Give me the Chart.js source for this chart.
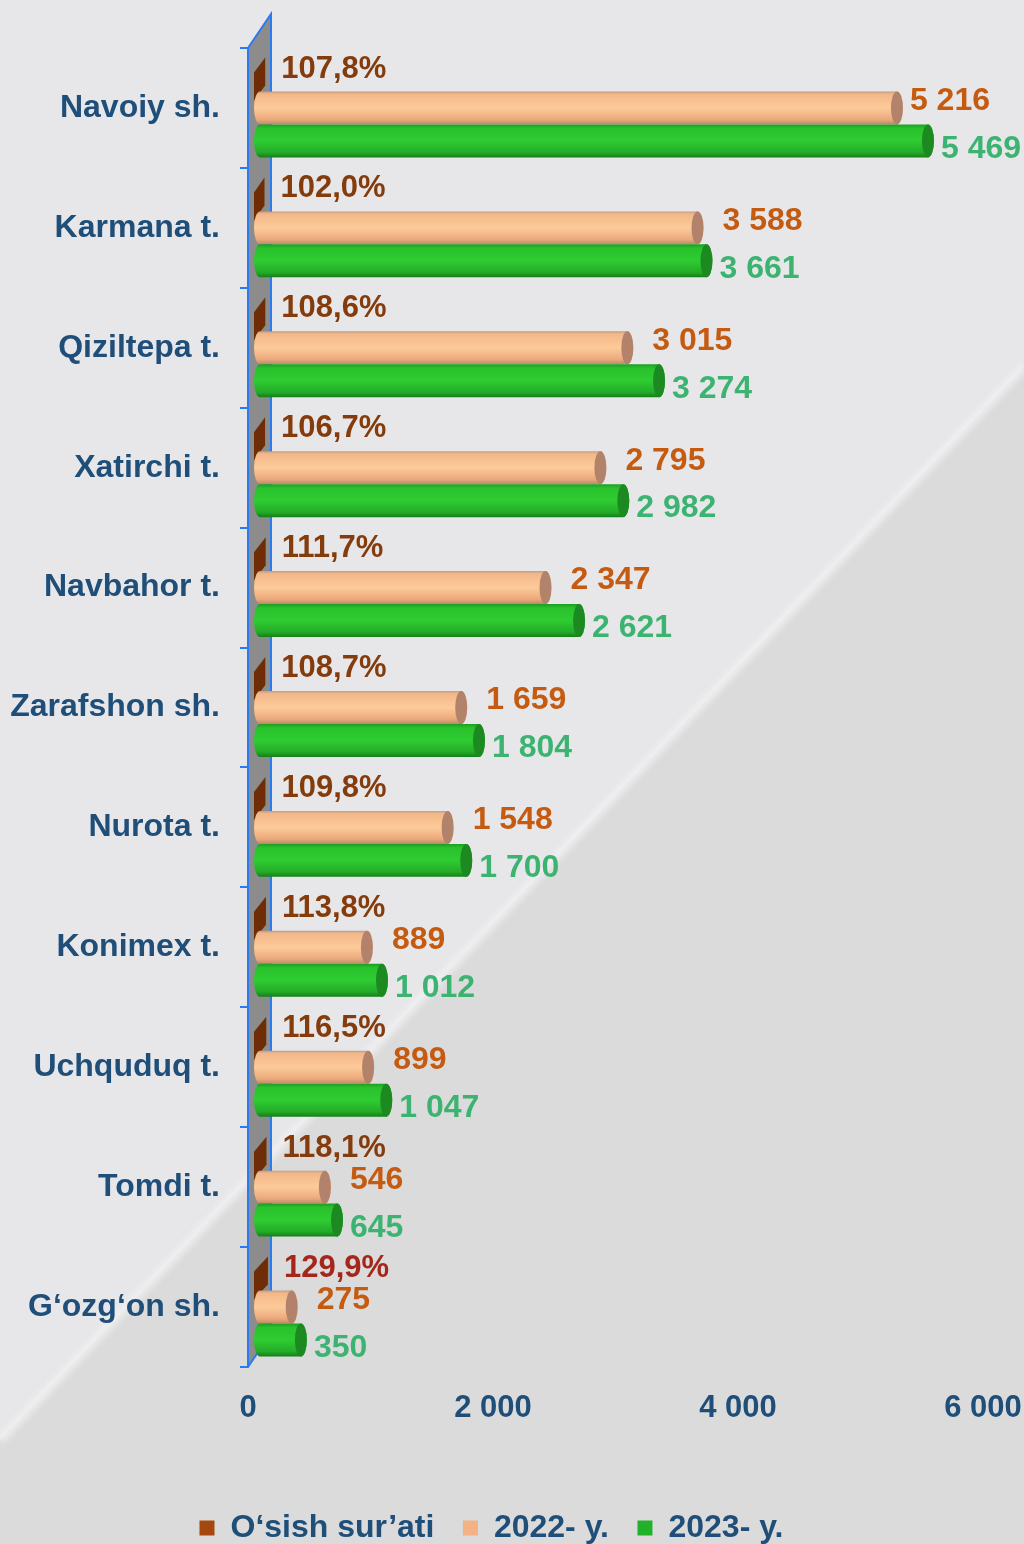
<!DOCTYPE html>
<html>
<head>
<meta charset="utf-8">
<script src="https://cdn.jsdelivr.net/npm/chart.js@4/dist/chart.umd.min.js"></script>
<style>
  html, body { margin: 0; padding: 0; background: #e7e7ea; }
  canvas { display: block; }
</style>
</head>
<body>
<canvas id="myChart" width="1024" height="1544"></canvas>
<script>
const districts = ['Navoiy sh.', 'Karmana t.', 'Qiziltepa t.', 'Xatirchi t.', 'Navbahor t.', 'Zarafshon sh.',
  'Nurota t.', 'Konimex t.', 'Uchquduq t.', 'Tomdi t.', 'G‘ozg‘on sh.'];
const growth = [107.8, 102.0, 108.6, 106.7, 111.7, 108.7, 109.8, 113.8, 116.5, 118.1, 129.9];
const y2022 = [5216, 3588, 3015, 2795, 2347, 1659, 1548, 889, 899, 546, 275];
const y2023 = [5469, 3661, 3274, 2982, 2621, 1804, 1700, 1012, 1047, 645, 350];
const xTicks = [0, 2000, 4000, 6000];
const seriesNames = ['O‘sish sur’ati', '2022- y.', '2023- y.'];

const seriesColors = ['#a5480f', '#f4b183', '#22b22a'];
const navy = '#1f4e79';
const axisBlue = '#2a7af0';
const family = '"Liberation Sans", Arial, sans-serif';

// 5216 -> "5 216"
const fmt = v => String(v).replace(/\B(?=(\d{3})+(?!\d))/g, ' ');
const pct = v => v.toFixed(1).replace('.', ',') + '%';

const peachShades = {
  stops: [[0, '#bf9d88'], [0.08, '#f3b788'], [0.5, '#fdca9a'], [0.85, '#eba97b'], [1, '#b98a6c']],
  cap: '#b3826a'
};
const greenShades = {
  stops: [[0, '#1c9e21'], [0.12, '#29c22d'], [0.5, '#2ecc32'], [0.85, '#24ab28'], [1, '#157d19']],
  cap: '#1c8a20'
};

// page background with the diagonal split and the grey 3D wall behind the bars
const backdrop = {
  id: 'backdrop',
  beforeDraw(chart) {
    const { ctx, width, height, chartArea } = chart;
    ctx.save();
    ctx.fillStyle = '#e7e7ea';
    ctx.fillRect(0, 0, width, height);
    ctx.beginPath();
    ctx.moveTo(0, 1440);
    ctx.lineTo(width, 367);
    ctx.lineTo(width, height);
    ctx.lineTo(0, height);
    ctx.closePath();
    ctx.fillStyle = '#dbdbdb';
    ctx.fill();
    ctx.filter = 'blur(3px)';
    ctx.strokeStyle = 'rgba(242,242,244,0.8)';
    ctx.lineWidth = 8;
    ctx.beginPath();
    ctx.moveTo(0, 1440);
    ctx.lineTo(width, 367);
    ctx.stroke();
    ctx.filter = 'none';

    const L = chartArea.left, T = chartArea.top, B = chartArea.bottom;
    const d = 23, rise = 34;
    ctx.beginPath();
    ctx.moveTo(L, T);
    ctx.lineTo(L + d, T - rise);
    ctx.lineTo(L + d, B - rise);
    ctx.lineTo(L, B);
    ctx.closePath();
    ctx.fillStyle = '#8c8c8c';
    ctx.fill();
    ctx.strokeStyle = axisBlue;
    ctx.lineWidth = 2;
    ctx.beginPath();
    ctx.moveTo(L, T);
    ctx.lineTo(L + d, T - rise);
    ctx.lineTo(L + d, B - rise);
    ctx.lineTo(L, B);
    ctx.stroke();
    ctx.restore();
  }
};

function drawCylinder(ctx, bar, shades) {
  const h = bar.height, rx = 6;
  const xs = bar.base + 12, xe = bar.x + 10;
  const top = bar.y - h / 2, bottom = bar.y + h / 2;
  const g = ctx.createLinearGradient(0, top, 0, bottom);
  shades.stops.forEach(([o, c]) => g.addColorStop(o, c));
  ctx.beginPath();
  ctx.moveTo(xs, top);
  ctx.lineTo(xe, top);
  ctx.ellipse(xe, bar.y, rx, h / 2, 0, -Math.PI / 2, Math.PI / 2);
  ctx.lineTo(xs, bottom);
  ctx.ellipse(xs, bar.y, rx, h / 2, 0, Math.PI / 2, Math.PI * 1.5);
  ctx.closePath();
  ctx.fillStyle = g;
  ctx.fill();
  ctx.beginPath();
  ctx.ellipse(xe, bar.y, rx, h / 2, 0, 0, Math.PI * 2);
  ctx.fillStyle = shades.cap;
  ctx.fill();
}

function drawSideFace(ctx, bar) {
  const h = bar.height;
  const top = bar.y - h / 2;
  const x0 = bar.base + 6, x1 = bar.x + 4;
  ctx.beginPath();
  ctx.moveTo(x0, top + 42);
  ctx.lineTo(x0, top + 14);
  ctx.lineTo(x1, top - 1);
  ctx.lineTo(x1, top + 27);
  ctx.closePath();
  ctx.fillStyle = '#6e2d07';
  ctx.fill();
}

const cylinders = {
  id: 'cylinders',
  afterDatasetsDraw(chart) {
    const { ctx, chartArea } = chart;
    const top = Math.max(...growth);
    ctx.save();
    chart.getDatasetMeta(0).data.forEach(bar => drawSideFace(ctx, bar));
    chart.getDatasetMeta(1).data.forEach(bar => drawCylinder(ctx, bar, peachShades));
    chart.getDatasetMeta(2).data.forEach(bar => drawCylinder(ctx, bar, greenShades));

    ctx.textBaseline = 'middle';
    ctx.textAlign = 'left';
    ctx.font = 'bold 31px ' + family;
    chart.getDatasetMeta(0).data.forEach((bar, i) => {
      ctx.fillStyle = growth[i] === top ? '#a5271b' : '#843c0c';
      ctx.fillText(pct(growth[i]), bar.x + 20, bar.y - 6);
    });
    ctx.font = 'bold 32px ' + family;
    chart.getDatasetMeta(1).data.forEach((bar, i) => {
      const t = fmt(y2022[i]);
      const w = ctx.measureText(t).width;
      ctx.fillStyle = '#c55a11';
      ctx.fillText(t, Math.min(bar.x + 35, chartArea.right + 7 - w), bar.y - 7);
    });
    chart.getDatasetMeta(2).data.forEach((bar, i) => {
      ctx.fillStyle = '#3cb371';
      ctx.fillText(fmt(y2023[i]), bar.x + 23, bar.y + 8);
    });
    ctx.restore();
  }
};

const ctx = document.getElementById('myChart');
new Chart(ctx, {
  type: 'bar',
  data: {
    labels: districts,
    datasets: [
      { label: seriesNames[0], data: growth },
      { label: seriesNames[1], data: y2022 },
      { label: seriesNames[2], data: y2023 }
    ]
  },
  options: {
    indexAxis: 'y',
    responsive: false,
    animation: false,
    devicePixelRatio: 1,
    layout: { padding: { top: 48, right: 41, bottom: -10, left: 0 } },
    datasets: {
      bar: {
        categoryPercentage: 0.825,
        barPercentage: 1,
        backgroundColor: 'rgba(0,0,0,0)',
        borderColor: 'rgba(0,0,0,0)',
        borderWidth: 0
      }
    },
    scales: {
      x: {
        min: 0,
        max: 6000,
        afterBuildTicks: s => { s.ticks = xTicks.map(v => ({ value: v })); },
        afterFit: s => { s.height = 116.5; s.paddingLeft = 0; s.paddingRight = 0; },
        grid: { display: false, drawTicks: false },
        border: { display: false },
        ticks: {
          padding: 23,
          color: navy,
          font: { size: 31, weight: 'bold', family },
          callback: v => fmt(v)
        }
      },
      y: {
        afterFit: s => { s.width = 248; },
        grid: { offset: true, drawOnChartArea: false, tickLength: 8, color: axisBlue, lineWidth: 2 },
        border: { color: axisBlue, width: 2 },
        ticks: {
          padding: 20,
          color: navy,
          font: { size: 32, weight: 'bold', family }
        }
      }
    },
    plugins: {
      colors: { enabled: false },
      tooltip: { enabled: false },
      legend: {
        position: 'bottom',
        labels: {
          boxWidth: 15,
          boxHeight: 15,
          padding: 28.5,
          color: navy,
          font: { size: 32, weight: 'bold', family },
          generateLabels: () => seriesNames.map((t, i) => ({
            text: t,
            fillStyle: seriesColors[i],
            strokeStyle: seriesColors[i],
            lineWidth: 0,
            fontColor: navy,
            datasetIndex: i
          }))
        }
      }
    }
  },
  plugins: [backdrop, cylinders]
});
</script>
</body>
</html>
